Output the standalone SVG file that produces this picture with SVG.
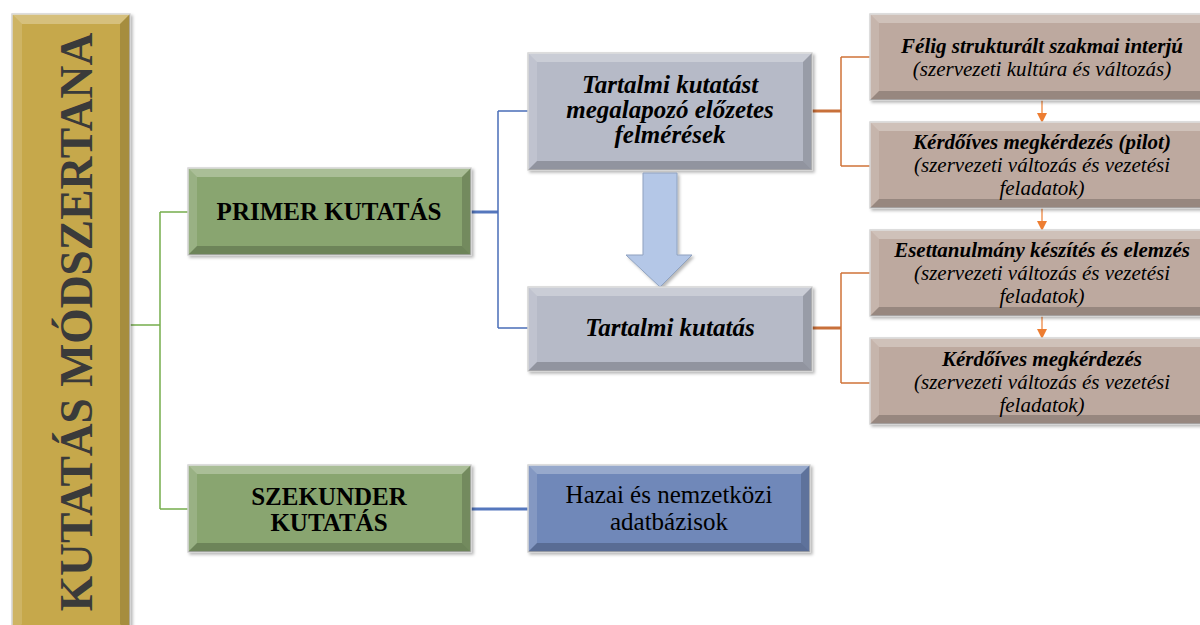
<svg xmlns="http://www.w3.org/2000/svg" width="1200" height="625" viewBox="0 0 1200 625">
<defs>
<style>
.box{stroke:#d4d4d4;stroke-width:1.5;filter:url(#sh)}
.gold{fill:#c6a84c}
.green{fill:#89a570}
.gray{fill:#b6bac7}
.brown{fill:#bda99f}
.blue{fill:#6f88b9}
.bt{fill:#fff;fill-opacity:.28}
.bl{fill:#fff;fill-opacity:.14}
.br{fill:#000;fill-opacity:.16}
.bb{fill:#000;fill-opacity:.2}
text{font-family:'Liberation Serif','Times New Roman',serif;text-anchor:middle;fill:#000}
.b{font-weight:bold}
.i{font-style:italic}
.c{fill:none}
.cg{stroke:#75ad4c;stroke-width:1.5}
.cb{stroke:#4a6eb8;stroke-width:1.5}
.cb3{stroke:#5577bd;stroke-width:3}
.co{stroke:#cf7338;stroke-width:1.5}
.co3{stroke:#c8703a;stroke-width:3}
.ca{stroke:#ed7d31;stroke-width:1.2}
</style>
<filter id="sh" x="-5%" y="-5%" width="115%" height="120%">
<feDropShadow dx="2" dy="2" stdDeviation="1.5" flood-color="#000" flood-opacity="0.28"/>
</filter>
<marker id="ah" markerWidth="10" markerHeight="10" refX="9" refY="5" orient="auto" markerUnits="userSpaceOnUse">
<path d="M0,0 L10,5 L0,10 Z" fill="#ed7d31"/>
</marker>
</defs>

<g id="connectors">
<path class="c cg" d="M130,325 H160 M160,212 V509 M160,212 H188 M160,509 H188"/>
<path class="c cb3" d="M471,212 H498"/>
<path class="c cb" d="M498,111 V328 M498,111 H528 M498,328 H528"/>
<path class="c cb3" d="M471,509 H528"/>
<path class="c co3" d="M812,111 H841 M812,328 H841"/>
<path class="c co" d="M841,57 V166 M841,57 H870 M841,166 H870 M841,273 V383 M841,273 H870 M841,383 H870"/>
<path class="c ca" d="M1042,100 V122" marker-end="url(#ah)"/>
<path class="c ca" d="M1042,208 V230" marker-end="url(#ah)"/>
<path class="c ca" d="M1042,316 V338" marker-end="url(#ah)"/>
</g>

<g id="main">
<rect class="box gold" x="12" y="14" width="118" height="620"/>
<polygon class="bt" points="12,14 130,14 120,24 22,24"/>
<polygon class="bl" points="12,14 22,24 22,624 12,634"/>
<polygon class="br" points="130,14 130,634 120,624 120,24"/>
<text class="b" transform="translate(92,322) rotate(-90)" font-size="45.5" style="fill:#3a3a3a">KUTATÁS MÓDSZERTANA</text>
</g>

<g id="primer">
<rect class="box green" x="188" y="168" width="283" height="87"/>
<polygon class="bt" points="188,168 471,168 462,177 197,177"/>
<polygon class="bl" points="188,168 197,177 197,246 188,255"/>
<polygon class="br" points="471,168 471,255 462,246 462,177"/>
<polygon class="bb" points="188,255 471,255 462,246 197,246"/>
<text class="b" x="329" y="220" font-size="25">PRIMER KUTATÁS</text>
</g>

<g id="szekunder">
<rect class="box green" x="188" y="465" width="283" height="87"/>
<polygon class="bt" points="188,465 471,465 462,474 197,474"/>
<polygon class="bl" points="188,465 197,474 197,543 188,552"/>
<polygon class="br" points="471,465 471,552 462,543 462,474"/>
<polygon class="bb" points="188,552 471,552 462,543 197,543"/>
<text class="b" x="329" y="505" font-size="25">SZEKUNDER</text>
<text class="b" x="329" y="531" font-size="25">KUTATÁS</text>
</g>

<g id="elozetes">
<rect class="box gray" x="528" y="53" width="284" height="117"/>
<polygon class="bt" points="528,53 812,53 803,62 537,62"/>
<polygon class="bl" points="528,53 537,62 537,161 528,170"/>
<polygon class="br" points="812,53 812,170 803,161 803,62"/>
<polygon class="bb" points="528,170 812,170 803,161 537,161"/>
<text class="b i" x="670" y="93" font-size="25">Tartalmi kutatást</text>
<text class="b i" x="670" y="118" font-size="25">megalapozó előzetes</text>
<text class="b i" x="670" y="143" font-size="25">felmérések</text>
</g>

<g id="arrow">
<polygon points="643,173 677,173 677,255 692,255 660,287 626,255 643,255" fill="#b4c7e7" stroke="#8fa2c0" stroke-width="1" filter="url(#sh)"/>
</g>

<g id="tartalmi">
<rect class="box gray" x="528" y="287" width="284" height="84"/>
<polygon class="bt" points="528,287 812,287 803,296 537,296"/>
<polygon class="bl" points="528,287 537,296 537,362 528,371"/>
<polygon class="br" points="812,287 812,371 803,362 803,296"/>
<polygon class="bb" points="528,371 812,371 803,362 537,362"/>
<text class="b i" x="670" y="336" font-size="25">Tartalmi kutatás</text>
</g>

<g id="hazai">
<rect class="box blue" x="528" y="465" width="282" height="87"/>
<polygon class="bt" points="528,465 810,465 801,474 537,474"/>
<polygon class="bl" points="528,465 537,474 537,543 528,552"/>
<polygon class="br" points="810,465 810,552 801,543 801,474"/>
<polygon class="bb" points="528,552 810,552 801,543 537,543"/>
<text x="669" y="503" font-size="25">Hazai és nemzetközi</text>
<text x="669" y="530" font-size="25">adatbázisok</text>
</g>

<g id="interju">
<rect class="box brown" x="870" y="14" width="344" height="86"/>
<polygon class="bt" points="870,14 1214,14 1205,23 879,23"/>
<polygon class="bl" points="870,14 879,23 879,91 870,100"/>
<polygon class="bb" points="870,100 1214,100 1205,91 879,91"/>
<text class="b i" x="1042" y="53" font-size="21">Félig strukturált szakmai interjú</text>
<text class="i" x="1042" y="76" font-size="21">(szervezeti kultúra és változás)</text>
</g>

<g id="pilot">
<rect class="box brown" x="870" y="122" width="344" height="86"/>
<polygon class="bt" points="870,122 1214,122 1205,131 879,131"/>
<polygon class="bl" points="870,122 879,131 879,199 870,208"/>
<polygon class="bb" points="870,208 1214,208 1205,199 879,199"/>
<text class="b i" x="1042" y="149" font-size="21">Kérdőíves megkérdezés (pilot)</text>
<text class="i" x="1042" y="172" font-size="21">(szervezeti változás és vezetési</text>
<text class="i" x="1042" y="195" font-size="21">feladatok)</text>
</g>

<g id="eset">
<rect class="box brown" x="870" y="230" width="344" height="86"/>
<polygon class="bt" points="870,230 1214,230 1205,239 879,239"/>
<polygon class="bl" points="870,230 879,239 879,307 870,316"/>
<polygon class="bb" points="870,316 1214,316 1205,307 879,307"/>
<text class="b i" x="1042" y="257" font-size="21">Esettanulmány készítés és elemzés</text>
<text class="i" x="1042" y="280" font-size="21">(szervezeti változás és vezetési</text>
<text class="i" x="1042" y="303" font-size="21">feladatok)</text>
</g>

<g id="kerdoives">
<rect class="box brown" x="870" y="338" width="344" height="86"/>
<polygon class="bt" points="870,338 1214,338 1205,347 879,347"/>
<polygon class="bl" points="870,338 879,347 879,415 870,424"/>
<polygon class="bb" points="870,424 1214,424 1205,415 879,415"/>
<text class="b i" x="1042" y="366" font-size="21">Kérdőíves megkérdezés</text>
<text class="i" x="1042" y="389" font-size="21">(szervezeti változás és vezetési</text>
<text class="i" x="1042" y="412" font-size="21">feladatok)</text>
</g>
</svg>
